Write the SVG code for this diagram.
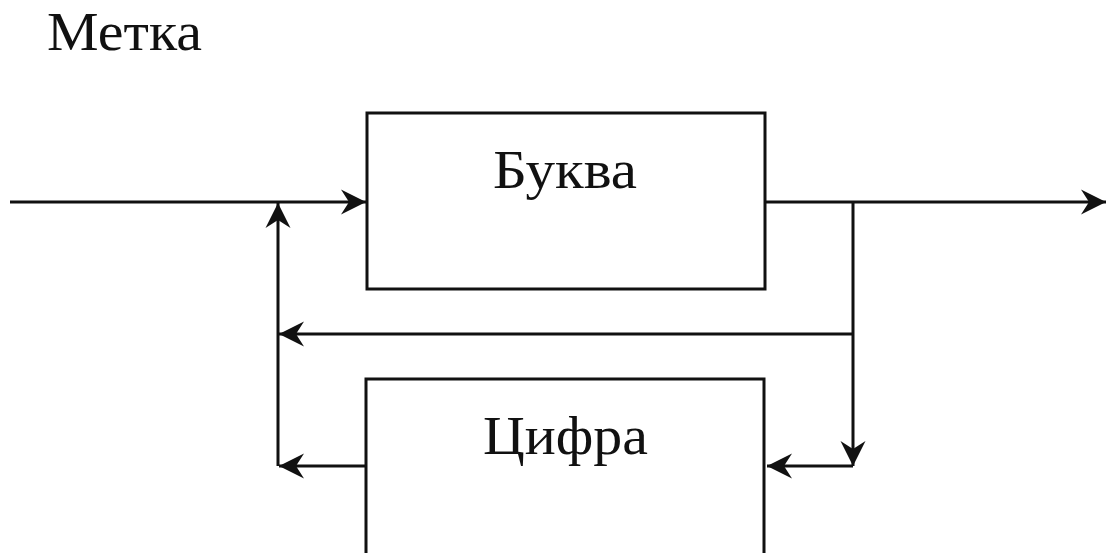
<svg xmlns="http://www.w3.org/2000/svg" width="1107" height="553" viewBox="0 0 1107 553">
<style>
.box{fill:#fff;stroke:#111;stroke-width:3}
.ln{fill:none;stroke:#111;stroke-width:3;marker-end:url(#arr)}
.t{font-family:"Liberation Serif",serif;font-size:54px;fill:#111}
</style>
<defs>
<marker id="arr" markerUnits="userSpaceOnUse" markerWidth="30" markerHeight="30" viewBox="0 0 30 30" refX="27" refY="15" orient="auto">
<path d="M27,15 L2,2.5 L10,15 L2,27.5 Z" fill="#111"/>
</marker>
</defs>
<rect width="1107" height="553" fill="#fff"/>
<text class="t" x="47" y="50" textLength="155" lengthAdjust="spacingAndGlyphs">Метка</text>
<g id="connectors">
<path class="ln" d="M10,202 H366"/>
<path class="ln" d="M766,202 H1106"/>
<path class="ln" d="M853,202 V466"/>
<path class="ln" d="M853,466 H767"/>
<path class="ln" d="M853,334 H279"/>
<path class="ln" d="M366,466 H279"/>
<path class="ln" d="M278,466 V203"/>
</g>
<g id="bukva">
<rect class="box" x="367" y="113" width="398" height="176"/>
<text class="t" x="493" y="188" textLength="144" lengthAdjust="spacingAndGlyphs">Буква</text>
</g>
<g id="cifra">
<rect class="box" x="366" y="379" width="398" height="190"/>
<text class="t" x="483" y="454" textLength="165" lengthAdjust="spacingAndGlyphs">Цифра</text>
</g>
</svg>
